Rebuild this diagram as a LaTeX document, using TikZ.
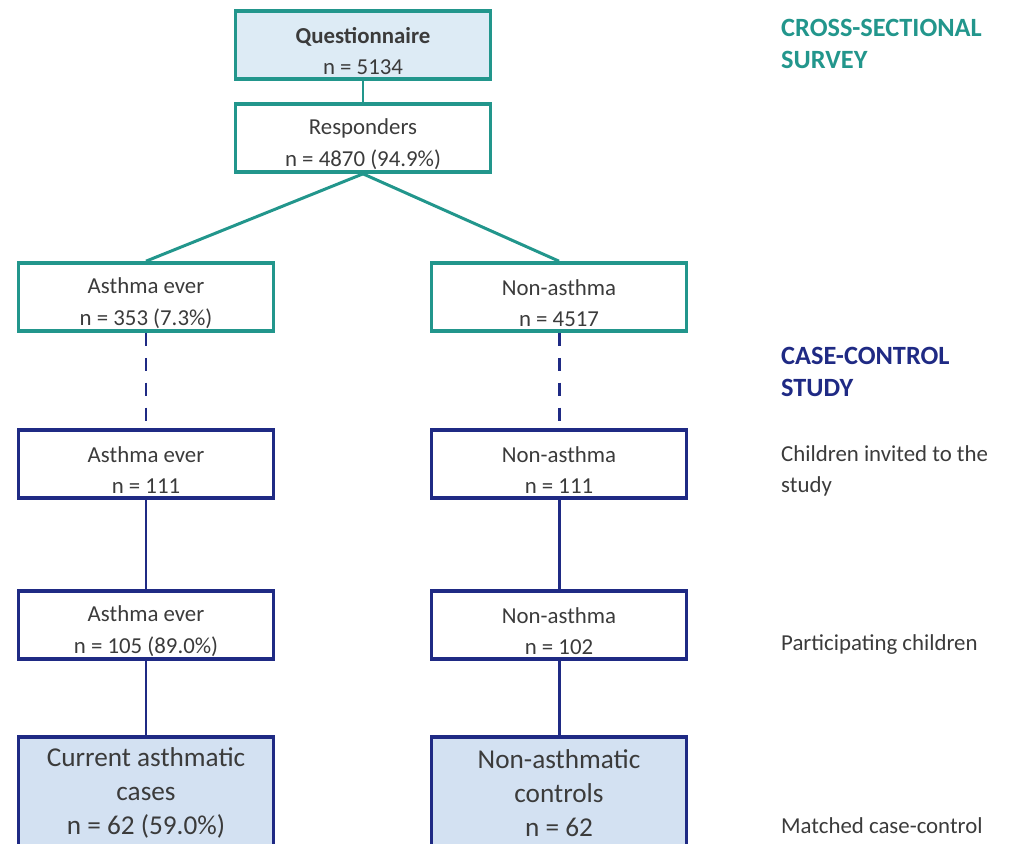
\documentclass[tikz,border=0pt]{standalone}
\usepackage{fontspec}
\setmainfont{Carlito}
\usetikzlibrary{positioning}

\definecolor{tealc}{HTML}{22968C}
\definecolor{navyc}{HTML}{1F2A84}
\definecolor{qfill}{HTML}{DDEBF5}
\definecolor{cfill}{HTML}{D3E1F2}
\definecolor{txtc}{HTML}{3B3B3B}

\begin{document}
\begin{tikzpicture}[x=0.02cm,y=-0.02cm,
    box/.style={draw, line width=2.1pt, minimum width=5.1cm, minimum height=1.36cm,
      align=center, text=txtc, inner xsep=2pt, inner ysep=0pt,
      font=\fontsize{13}{18}\selectfont},
    tealbox/.style={box, draw=tealc, text height=34pt},
    navybox/.style={box, draw=navyc, text height=34pt},
    bigbox/.style={box, draw=navyc, fill=cfill, minimum height=2.24cm,
      font=\fontsize{15.5}{19.5}\selectfont},
    tealline/.style={draw=tealc, line width=1.7pt},
    navyline/.style={draw=navyc, line width=1.7pt},
    side/.style={anchor=west, align=left, text=txtc, font=\fontsize{13}{18}\selectfont},
    head/.style={side, font=\fontsize{15}{18}\selectfont\bfseries}]
  \useasboundingbox (0,0) rectangle (1010,843);
  \clip (0,0) rectangle (1010,843);

  % cross-sectional survey
  \node[tealbox, fill=qfill] (quest) at (363,45) {\textbf{Questionnaire}\\n = 5134};
  \node[tealbox] (resp) at (363,138) {Responders\\n = 4870 (94.9\%)};
  \node[tealbox] (asth1) at (146,297) {Asthma ever\\n = 353 (7.3\%)};
  \node[tealbox] (non1) at (559,297) {Non-asthma\\n = 4517};

  % case-control study
  \node[navybox] (asth2) at (146,464) {Asthma ever\\n = 111};
  \node[navybox] (non2) at (559,464) {Non-asthma\\n = 111};
  \node[navybox] (asth3) at (146,625) {Asthma ever\\n = 105 (89.0\%)};
  \node[navybox] (non3) at (559,625) {Non-asthma\\n = 102};
  \node[bigbox] (cases) at (146,793) {Current asthmatic\\cases\\n = 62 (59.0\%)};
  \node[bigbox] (ctrls) at (559,793) {Non-asthmatic\\controls\\n = 62};

  % side labels
  \node[head, text=tealc] (survey) at (775,44) {CROSS-SECTIONAL\\SURVEY};
  \node[head, text=navyc] (study) at (775,372) {CASE-CONTROL\\STUDY};
  \node[side] (invited) at (775,471) {Children invited to the\\study};
  \node[side] (partic) at (775,645) {Participating children};
  \node[side] (matched) at (775,826) {Matched case-control};

  \path[tealline]
    (quest) edge (resp)
    (resp.south) edge (asth1.north)
    (resp.south) edge (non1.north);
  \path[navyline, dash pattern=on 7.4pt off 6.8pt]
    (asth1) edge (asth2)
    (non1) edge (non2);
  \path[navyline]
    (asth2) edge (asth3)
    (non2) edge (non3)
    (asth3) edge (cases)
    (non3) edge (ctrls);
\end{tikzpicture}
\end{document}
